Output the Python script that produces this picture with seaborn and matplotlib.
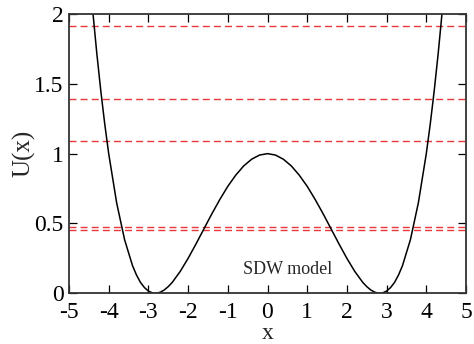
import matplotlib
matplotlib.use("Agg")
import matplotlib.pyplot as plt
import seaborn as sns

# potential curve
x_vals = [-4.5, -4.4, -4.3, -4.2, -4.1, -4.0, -3.8, -3.6, -3.4, -3.3, -3.2, -3.1,
          -3.0, -2.9, -2.83, -2.8, -2.7, -2.6, -2.5, -2.4, -2.2, -2.0, -1.8, -1.6,
          -1.4, -1.2, -1.0, -0.8, -0.6, -0.4, -0.2, 0.0,
          0.2, 0.4, 0.6, 0.8, 1.0, 1.2, 1.4, 1.6, 1.8, 2.0, 2.2, 2.4, 2.5, 2.6,
          2.7, 2.8, 2.83, 2.9, 3.0, 3.1, 3.2, 3.3, 3.4, 3.6, 3.8, 4.0, 4.1, 4.2,
          4.3, 4.4, 4.5]
u_vals = [2.344, 2.016, 1.719, 1.452, 1.213, 1.000, 0.648, 0.384, 0.198, 0.131, 0.078, 0.041,
          0.016, 0.003, 0.000, 0.000, 0.008, 0.024, 0.048, 0.078, 0.156, 0.250, 0.354, 0.462,
          0.570, 0.672, 0.766, 0.846, 0.912, 0.960, 0.990, 1.000,
          0.990, 0.960, 0.912, 0.846, 0.766, 0.672, 0.570, 0.462, 0.354, 0.250, 0.156, 0.078, 0.048, 0.024,
          0.008, 0.000, 0.000, 0.003, 0.016, 0.041, 0.078, 0.131, 0.198, 0.384, 0.648, 1.000, 1.213, 1.452,
          1.719, 2.016, 2.344]

# energy levels (red dashed)
levels = [0.453, 0.473, 1.093, 1.394, 1.916]

x_ticks = [-5, -4, -3, -2, -1, 0, 1, 2, 3, 4, 5]
x_ticklabels = ["-5", "-4", "-3", "-2", "-1", "0", "1", "2", "3", "4", "5"]
y_ticks = [0, 0.5, 1, 1.5, 2]
y_ticklabels = ["0", "0.5", "1", "1.5", "2"]

sns.set_style("ticks")
plt.rcParams["font.family"] = ["Liberation Serif", "DejaVu Serif"]
plt.rcParams["axes.unicode_minus"] = False

fig = plt.figure(figsize=(4.74, 3.44), dpi=100)
ax = fig.add_axes([69 / 474, 1 - 293.3 / 344, (466 - 69) / 474, (293.3 - 14) / 344])

for lv in levels:
    ax.axhline(lv, color="#e8383d", lw=1.0, ls=(0, (5, 3)), zorder=1)

sns.lineplot(x=x_vals, y=u_vals, color="black", lw=1.1, sort=False, ax=ax, zorder=2)

ax.set_xlim(-5, 5)
ax.set_ylim(0, 2)
ax.set_xticks(x_ticks)
ax.set_xticklabels(x_ticklabels)
ax.set_yticks(y_ticks)
ax.set_yticklabels(y_ticklabels)
ax.tick_params(direction="in", length=5.5, width=0.9, labelsize=17, pad=4,
               top=True, right=True, colors="black")
ax.tick_params(axis="x", pad=6)
for s in ax.spines.values():
    s.set_linewidth(1.3)
    s.set_color("#333333")

ax.set_xlabel("x", fontsize=17, labelpad=0)
ax.set_ylabel("U(x)", fontsize=18, labelpad=-1)
ax.text(-0.62, 0.14, "SDW model", fontsize=13)

fig.savefig("out.png", dpi=100)
